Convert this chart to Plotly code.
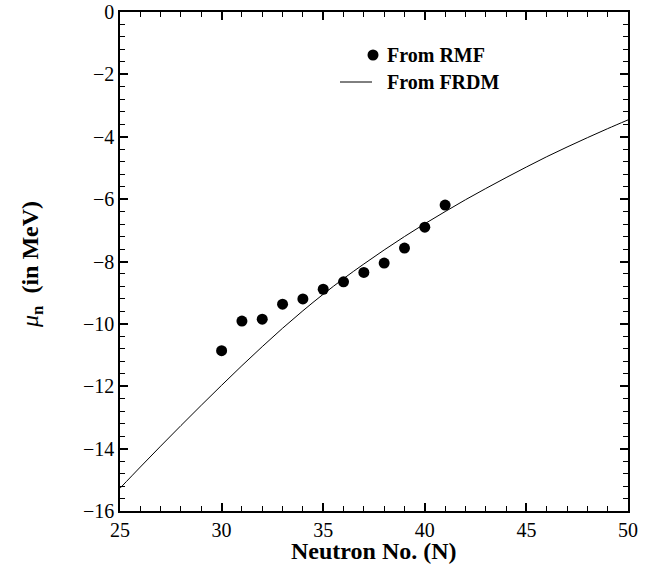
import plotly.graph_objects as go

# Neutron chemical potential from RMF calculations
rmf_n = [30, 31, 32, 33, 34, 35, 36, 37, 38, 39, 40, 41]
rmf_mu = [-10.86, -9.91, -9.85, -9.37, -9.20, -8.89, -8.65, -8.35, -8.05, -7.57, -6.90, -6.19]

# Neutron chemical potential from FRDM
frdm_n = list(range(25, 51))
frdm_mu = [-15.27, -14.59, -13.92, -13.26, -12.61, -11.97, -11.34, -10.73, -10.14, -9.58,
           -9.05, -8.55, -8.08, -7.63, -7.20, -6.79, -6.40, -6.02, -5.66, -5.31,
           -4.97, -4.64, -4.33, -4.03, -3.74, -3.46]

x_range = [25, 50]
y_range = [-16, 0]

FONT = "Times New Roman, Liberation Serif, serif"
W, H = 653, 575
ML, MR, MT, MB = 120, 25, 12, 64
PW, PH = W - ML - MR, H - MT - MB

fig = go.Figure()
fig.add_trace(go.Scatter(x=frdm_n, y=frdm_mu, mode="lines",
                         line=dict(color="black", width=1, shape="spline"),
                         name="From FRDM", showlegend=False))
fig.add_trace(go.Scatter(x=rmf_n, y=rmf_mu, mode="markers",
                         marker=dict(color="black", size=11),
                         name="From RMF", showlegend=False))

axis_common = dict(
    showgrid=False, zeroline=False, showline=True, linecolor="black", linewidth=1.5,
    mirror="ticks", ticks="inside", tickcolor="black", tickwidth=1.5, ticklen=8,
    tickfont=dict(family=FONT, size=20, color="black"), automargin=False,
)
fig.update_xaxes(range=x_range, tickmode="linear", tick0=25, dtick=5,
                 minor=dict(tick0=25, dtick=1, ticks="inside", ticklen=5, tickwidth=1.2,
                            tickcolor="black", showgrid=False),
                 **axis_common)
fig.update_yaxes(range=y_range, tickmode="linear", tick0=0, dtick=2,
                 minor=dict(tick0=0, dtick=0.4, ticks="inside", ticklen=5, tickwidth=1.2,
                            tickcolor="black", showgrid=False),
                 **axis_common)

# axis titles
fig.add_annotation(xref="paper", yref="paper", x=0.5, y=-(551 - MT - PH) / PH,
                   xanchor="center", yanchor="middle", showarrow=False,
                   text="<b>Neutron No. (N)</b>", font=dict(family=FONT, size=24, color="black"))
fig.add_annotation(xref="paper", yref="paper", x=(32 - ML) / PW, y=1 - (265 - MT) / PH,
                   xanchor="center", yanchor="middle", textangle=-90, showarrow=False,
                   text="<i>μ</i><sub><b>n</b></sub><b>  (in MeV)</b>",
                   font=dict(family=FONT, size=24, color="black"))

# legend keys
fig.add_shape(type="circle", xref="paper", yref="paper",
              x0=(373 - ML - 5.5) / PW, x1=(373 - ML + 5.5) / PW,
              y0=1 - (55 - MT + 5.5) / PH, y1=1 - (55 - MT - 5.5) / PH,
              fillcolor="black", line=dict(color="black", width=0))
fig.add_shape(type="line", xref="paper", yref="paper", x0=(340 - ML) / PW, x1=(372 - ML) / PW,
              y0=1 - (82 - MT) / PH, y1=1 - (82 - MT) / PH, line=dict(color="black", width=1))
fig.add_annotation(xref="paper", yref="paper", x=(385 - ML) / PW, y=1 - (55 - MT) / PH,
                   xanchor="left", yanchor="middle", showarrow=False,
                   text="<b>From RMF</b>", font=dict(family=FONT, size=20, color="black"))
fig.add_annotation(xref="paper", yref="paper", x=(385 - ML) / PW, y=1 - (82 - MT) / PH,
                   xanchor="left", yanchor="middle", showarrow=False,
                   text="<b>From FRDM</b>", font=dict(family=FONT, size=20, color="black"))

fig.update_layout(width=W, height=H, margin=dict(l=ML, r=MR, t=MT, b=MB),
                  plot_bgcolor="white", paper_bgcolor="white")

fig.write_html("out.html")
